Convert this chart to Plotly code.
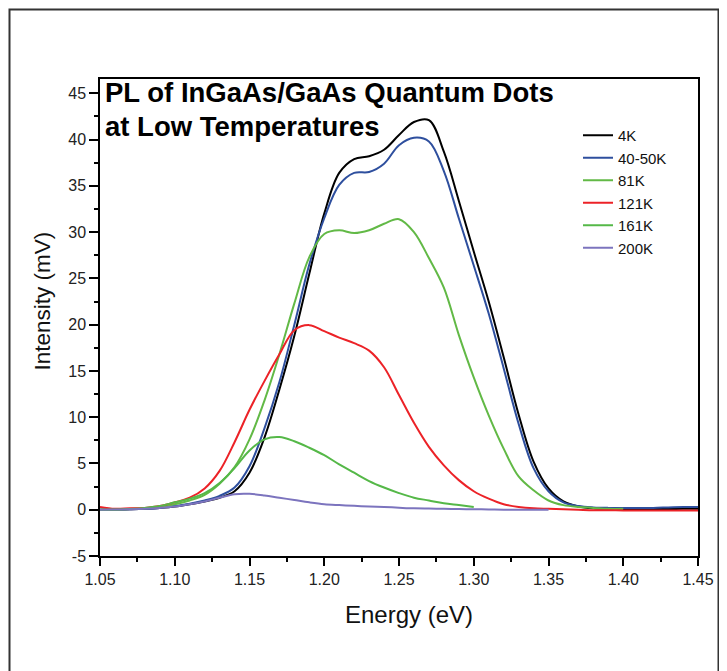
import plotly.graph_objects as go

# ---- data ----
energy_full = [1.05,1.06,1.07,1.08,1.09,1.10,1.11,1.12,1.13,1.14,1.15,1.16,1.17,1.18,1.19,1.20,
               1.21,1.22,1.23,1.24,1.25,1.26,1.27,1.28,1.29,1.30,1.31,1.32,1.33,1.34,1.35,1.36,
               1.37,1.38,1.39,1.40,1.41,1.42,1.43,1.44,1.45]

I_4K = [0.0,0.02,0.05,0.1,0.2,0.35,0.6,0.9,1.3,2.0,4.0,7.8,13.0,18.8,25.5,32.0,
        36.4,37.9,38.2,38.9,40.5,41.9,42.1,38.7,33.4,27.9,22.5,16.5,10.3,5.2,2.3,0.9,
        0.35,0.15,0.1,0.08,0.08,0.08,0.08,0.1,0.1]

I_40 = [0.0,0.02,0.05,0.1,0.2,0.4,0.65,1.0,1.5,2.4,4.7,8.8,13.8,20.0,26.5,31.5,
        35.1,36.4,36.5,37.4,39.4,40.2,39.8,36.6,31.5,26.4,21.2,15.3,9.3,4.5,2.0,0.8,
        0.4,0.25,0.2,0.2,0.2,0.2,0.25,0.3,0.3]

energy_81 = [1.05,1.06,1.07,1.08,1.09,1.10,1.11,1.12,1.13,1.14,1.15,1.16,1.17,1.18,1.19,1.20,
             1.21,1.22,1.23,1.24,1.25,1.26,1.27,1.28,1.29,1.30,1.31,1.32,1.33,1.34,1.35,1.36,
             1.37,1.38,1.39,1.40]
I_81 = [0.0,0.03,0.08,0.15,0.3,0.6,1.0,1.6,2.8,4.6,7.6,11.8,16.8,22.3,27.3,29.8,
        30.2,29.9,30.2,30.9,31.4,30.0,27.2,24.0,18.9,14.3,10.2,6.6,3.6,2.1,1.0,0.5,
        0.3,0.2,0.1,0.1]

I_121 = [0.3,0.1,0.15,0.2,0.4,0.8,1.3,2.3,4.2,7.3,10.8,13.9,16.8,19.4,19.95,19.3,
         18.6,18.0,17.2,15.4,12.4,9.4,6.8,4.8,3.2,2.0,1.2,0.6,0.3,0.15,0.1,0.05,
         0.0,-0.05,-0.06,-0.07,-0.07,-0.07,-0.07,-0.07,-0.07]

energy_161 = [1.05,1.06,1.07,1.08,1.09,1.10,1.11,1.12,1.13,1.14,1.15,1.16,1.17,1.18,1.19,1.20,
              1.21,1.22,1.23,1.24,1.25,1.26,1.27,1.28,1.29,1.30]
I_161 = [0.0,0.03,0.08,0.2,0.4,0.8,1.2,1.8,2.9,4.5,6.4,7.6,7.85,7.4,6.7,5.9,
         4.9,4.0,3.1,2.4,1.8,1.3,1.0,0.7,0.5,0.3]

energy_200 = [1.05,1.06,1.07,1.08,1.09,1.10,1.11,1.12,1.13,1.14,1.15,1.16,1.17,1.18,1.19,1.20,
              1.21,1.22,1.23,1.24,1.25,1.26,1.27,1.28,1.29,1.30,1.31,1.32,1.33,1.34,1.35]
I_200 = [0.0,0.02,0.05,0.1,0.2,0.35,0.6,0.9,1.3,1.68,1.72,1.55,1.3,1.05,0.8,0.6,
         0.5,0.42,0.35,0.3,0.22,0.15,0.12,0.1,0.07,0.05,0.03,0.0,0.0,0.0,0.0]

series_names = ["4K", "40-50K", "81K", "121K", "161K", "200K"]
series_E = [energy_full, energy_full, energy_81, energy_full, energy_161, energy_200]
series_I = [I_4K, I_40, I_81, I_121, I_161, I_200]
series_colors = ["#000000", "#2E4F9E", "#62B946", "#EC2227", "#55B848", "#7C74BE"]

title_lines = ["PL of InGaAs/GaAs Quantum Dots", "at Low Temperatures"]
x_ticks = [1.05, 1.10, 1.15, 1.20, 1.25, 1.30, 1.35, 1.40, 1.45]
y_ticks = [-5, 0, 5, 10, 15, 20, 25, 30, 35, 40, 45]
x_title = "Energy (eV)"
y_title = "Intensity (mV)"

FONT = "Liberation Sans, Arial, Helvetica, sans-serif"

# page (browser) pixel -> paper coords; plot area spans page x 100..698, y 79..556
def px(xp):
    return (xp - 100) / 598
def py(yp):
    return (556 - yp) / 477

fig = go.Figure()
for name, ex, iy, col in zip(series_names, series_E, series_I, series_colors):
    fig.add_trace(go.Scatter(x=ex, y=iy, mode="lines", name=name,
                             line=dict(color=col, width=2, shape="spline", smoothing=1.0)))

# page body has an 8px margin, so the figure is shifted by 8px
fig.update_layout(
    width=719, height=663,
    margin=dict(l=92, r=29, t=71, b=115, autoexpand=False),
    paper_bgcolor="white", plot_bgcolor="white",
    font=dict(family=FONT, color="#222222"),
    showlegend=True,
    legend=dict(x=px(578), y=py(119), xanchor="left", yanchor="top",
                bgcolor="rgba(0,0,0,0)", font=dict(size=15, family=FONT, color="#111111"),
                tracegroupgap=0, itemwidth=30),
)

fig.update_xaxes(
    range=[1.05, 1.45], tickvals=x_ticks, ticktext=[f"{v:.2f}" for v in x_ticks],
    showline=True, linecolor="black", linewidth=1.5, mirror=True,
    ticks="outside", ticklen=8, tickwidth=1.5, tickcolor="black",
    minor=dict(ticks="outside", ticklen=4, tickwidth=1.5, tickcolor="black", dtick=0.025, tick0=1.05),
    showgrid=False, zeroline=False,
    tickfont=dict(size=16, family=FONT, color="#222222"),
)
fig.update_yaxes(
    range=[-5, 46.55], tickvals=y_ticks, ticktext=[str(v) for v in y_ticks],
    showline=True, linecolor="black", linewidth=1.5, mirror=True,
    ticks="outside", ticklen=9, tickwidth=1.5, tickcolor="black",
    minor=dict(ticks="outside", ticklen=4, tickwidth=1.5, tickcolor="black", dtick=2.5, tick0=0),
    showgrid=False, zeroline=False,
    tickfont=dict(size=16, family=FONT, color="#222222"),
)

# axis titles
fig.add_annotation(text=x_title, xref="paper", yref="paper", x=px(409), y=py(614),
                   xanchor="center", yanchor="middle", showarrow=False,
                   font=dict(size=24, family=FONT, color="#111111"))
fig.add_annotation(text=y_title, xref="paper", yref="paper", x=px(42), y=py(301.5),
                   xanchor="center", yanchor="middle", showarrow=False, textangle=-90,
                   font=dict(size=22.5, family=FONT, color="#111111"))

# title lines inside plot area
for txt, ypx in zip(title_lines, [93, 127]):
    fig.add_annotation(text=f"<b>{txt}</b>", xref="paper", yref="paper",
                       x=px(103), y=py(ypx), xanchor="left", yanchor="middle",
                       showarrow=False, font=dict(size=27.5, family=FONT, color="black"))

# outer frame
fig.add_shape(type="rect", xref="paper", yref="paper",
              x0=px(9.5), x1=px(718.5), y0=py(690), y1=py(9.5),
              line=dict(color="#333333", width=2), fillcolor="rgba(0,0,0,0)", layer="below")

fig.write_html("out.html")
